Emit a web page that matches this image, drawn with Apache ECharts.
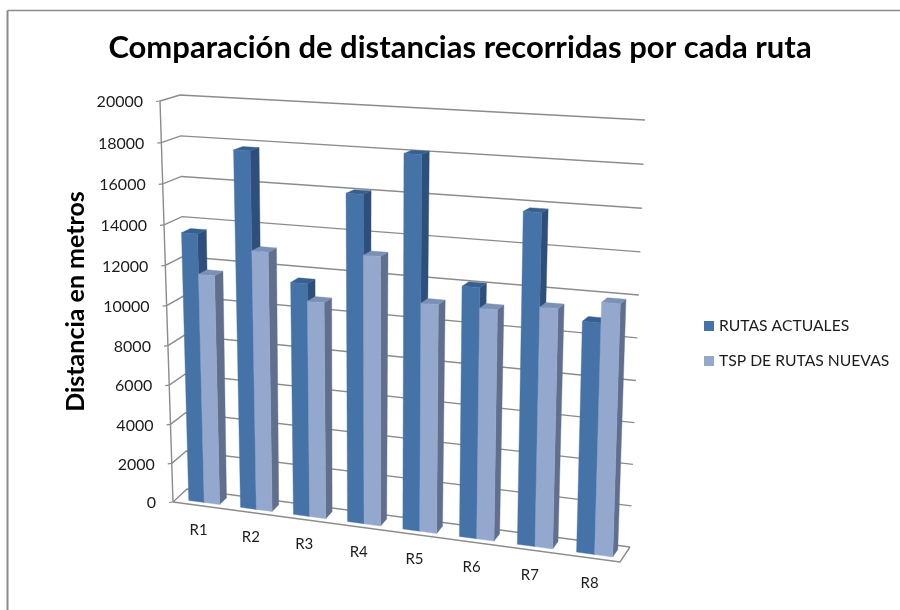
<!DOCTYPE html>
<html>
<head>
<meta charset="utf-8">
<style>html,body{margin:0;padding:0;background:#fff}#chart{width:900px;height:610px}</style>
<script src="https://cdn.jsdelivr.net/npm/echarts@6/dist/echarts.min.js"></script>
</head>
<body>
<div id="chart"></div>
<script>
const categories = ['R1', 'R2', 'R3', 'R4', 'R5', 'R6', 'R7', 'R8'];
const rutasActuales = [13560, 17760, 11560, 16040, 18080, 12070, 15760, 10920];
const rutasNuevas = [11570, 12940, 10710, 13160, 11100, 11110, 11400, 11870];
const valueTicks = [0, 2000, 4000, 6000, 8000, 10000, 12000, 14000, 16000, 18000, 20000];

// Corners of the 3D box on screen: front/back, left/right, bottom/top.
const box = {
  flb: [173, 502], frb: [620, 562], blb: [187, 489], brb: [630, 547],
  flt: [160, 101], frt: [633, 125], blt: [180, 95], brt: [645, 120]
};
const xFore = -0.086, yFore = -0.0406;
const BAR_Z = [0.25, 0.75];
const BAR_HALF = 0.3;
const BAR_SHIFT = 0.005;

const mix = (a, b, t) => [a[0] + (b[0] - a[0]) * t, a[1] + (b[1] - a[1]) * t];
const warp = (t, k) => t / (1 + k * t) * (1 + k);

// Maps normalised box coordinates to the screen with foreshortening along x and y.
function project(x, y, z) {
  const u = warp(x, xFore), v = warp(y, yFore);
  const front = mix(mix(box.flb, box.frb, u), mix(box.flt, box.frt, u), v);
  const back = mix(mix(box.blb, box.brb, u), mix(box.blt, box.brt, u), v);
  return mix(front, back, z);
}
const normX = (px, sys) => (px - sys.x) / sys.width;
const normY = (py, sys) => (sys.y + sys.height - py) / sys.height;

function poly(points, fill) {
  return { type: 'polygon', shape: { points }, style: { fill, stroke: fill, lineWidth: 0.4 } };
}
function line(points, stroke, width) {
  return { type: 'polyline', shape: { points }, style: { fill: null, stroke, lineWidth: width } };
}

// One box-shaped column; side -1 is the left column of a pair, +1 the right one.
function barRenderer(side, colors) {
  return (params, api) => {
    const sys = params.coordSys;
    const i = api.value(0);
    const top = api.coord([i, api.value(1)]);
    const band = api.size([1, 0])[0] / sys.width;
    const c = normX(top[0], sys) + BAR_SHIFT;
    const x0 = side < 0 ? c - BAR_HALF * band : c;
    const x1 = side < 0 ? c : c + BAR_HALF * band;
    const y = normY(top[1], sys);
    const [z0, z1] = BAR_Z;
    return {
      type: 'group',
      children: [
        poly([project(x1, 0, z0), project(x1, 0, z1), project(x1, y, z1), project(x1, y, z0)], colors.side),
        poly([project(x0, y, z0), project(x1, y, z0), project(x1, y, z1), project(x0, y, z1)], colors.top),
        poly([project(x0, 0, z0), project(x1, 0, z0), project(x1, y, z0), project(x0, y, z0)], colors.front)
      ]
    };
  };
}

// Gridline running along the side wall and the back wall, with its tick and label.
function gridRenderer(params, api) {
  const sys = params.coordSys;
  const v = api.value(0);
  const y = normY(api.coord([0, v])[1], sys);
  const a = project(0, y, 0), b = project(0, y, 1), c = project(1, y, 1);
  return {
    type: 'group',
    children: [
      line([a, b, c], '#8c8c8c', 1.4),
      line([[a[0] - 4, a[1] + 0.5], a], '#8c8c8c', 1.2),
      {
        type: 'text',
        style: {
          text: String(v), x: a[0] - 17, y: a[1] + 1, align: 'right', verticalAlign: 'middle',
          font: '16px Lato', fill: '#1c1c1c'
        }
      }
    ]
  };
}

// Floor outline and the vertical axis, drawn once under the gridlines.
function frameRenderer() {
  return {
    type: 'group',
    children: [
      line([project(0, 0, 0), project(1, 0, 0), project(1, 0, 1)], '#8c8c8c', 1.4),
      line([project(0, 0, 0), project(0, 1, 0)], '#8c8c8c', 1.4)
    ]
  };
}

function categoryRenderer(params, api) {
  const sys = params.coordSys;
  const i = api.value(0);
  const p = project(normX(api.coord([i, 0])[0], sys), 0, 0);
  return {
    type: 'text',
    style: {
      text: categories[i], x: p[0], y: p[1] + 25, align: 'center', verticalAlign: 'middle',
      font: '15px Lato', fill: '#1c1c1c'
    }
  };
}

const chart = echarts.init(document.getElementById('chart'), null, { renderer: 'canvas' });
chart.setOption({
  animation: false,
  backgroundColor: '#ffffff',
  title: {
    text: 'Comparación de distancias recorridas por cada ruta',
    left: 455, top: 27, textAlign: 'center',
    textStyle: { fontFamily: 'Lato', fontSize: 31, fontWeight: 'bold', color: '#000000' }
  },
  grid: { left: 173, top: 101, width: 447, height: 401 },
  xAxis: { type: 'category', data: categories, show: false },
  yAxis: {
    type: 'value', min: 0, max: 20000, interval: 2000,
    name: 'Distancia en metros', nameLocation: 'middle', nameGap: 85, nameRotate: 90,
    nameTextStyle: { fontFamily: 'Lato', fontSize: 25, fontWeight: 'bold', color: '#000000' },
    axisLine: { show: false }, axisTick: { show: false }, axisLabel: { show: false },
    splitLine: { show: false }
  },
  legend: {
    orient: 'vertical', left: 699, top: 313, icon: 'rect', itemWidth: 10, itemHeight: 10, itemGap: 19,
    data: ['RUTAS ACTUALES', 'TSP DE RUTAS NUEVAS'],
    textStyle: { fontFamily: 'Lato', fontSize: 15.7, color: '#1c1c1c' }
  },
  graphic: [
    { type: 'line', shape: { x1: 7.5, y1: 10.5, x2: 7.5, y2: 610 }, style: { stroke: '#8c8c8c', lineWidth: 2 }, silent: true },
    { type: 'line', shape: { x1: 7.5, y1: 10.5, x2: 900, y2: 10.5 }, style: { stroke: '#8c8c8c', lineWidth: 1.5 }, silent: true }
  ],
  series: [
    {
      name: 'frame', type: 'custom', silent: true, z: 1,
      data: [0], renderItem: frameRenderer
    },
    {
      name: 'grid', type: 'custom', silent: true, z: 2,
      data: valueTicks.map(v => [v]), encode: { y: 0 }, renderItem: gridRenderer
    },
    {
      name: 'RUTAS ACTUALES', type: 'custom', z: 3,
      itemStyle: { color: '#4572A7' },
      data: rutasActuales.map((v, i) => [i, v]), encode: { x: 0, y: 1 },
      renderItem: barRenderer(-1, { front: '#4572A7', side: '#2E4F7B', top: '#37608F' })
    },
    {
      name: 'TSP DE RUTAS NUEVAS', type: 'custom', z: 4,
      itemStyle: { color: '#94A8CE' },
      data: rutasNuevas.map((v, i) => [i, v]), encode: { x: 0, y: 1 },
      renderItem: barRenderer(1, { front: '#94A8CE', side: '#5F6F8D', top: '#7B90B5' })
    },
    {
      name: 'labels', type: 'custom', silent: true, z: 5,
      data: categories.map((c, i) => [i]), encode: { x: 0 }, renderItem: categoryRenderer
    }
  ]
});
</script>
</body>
</html>
